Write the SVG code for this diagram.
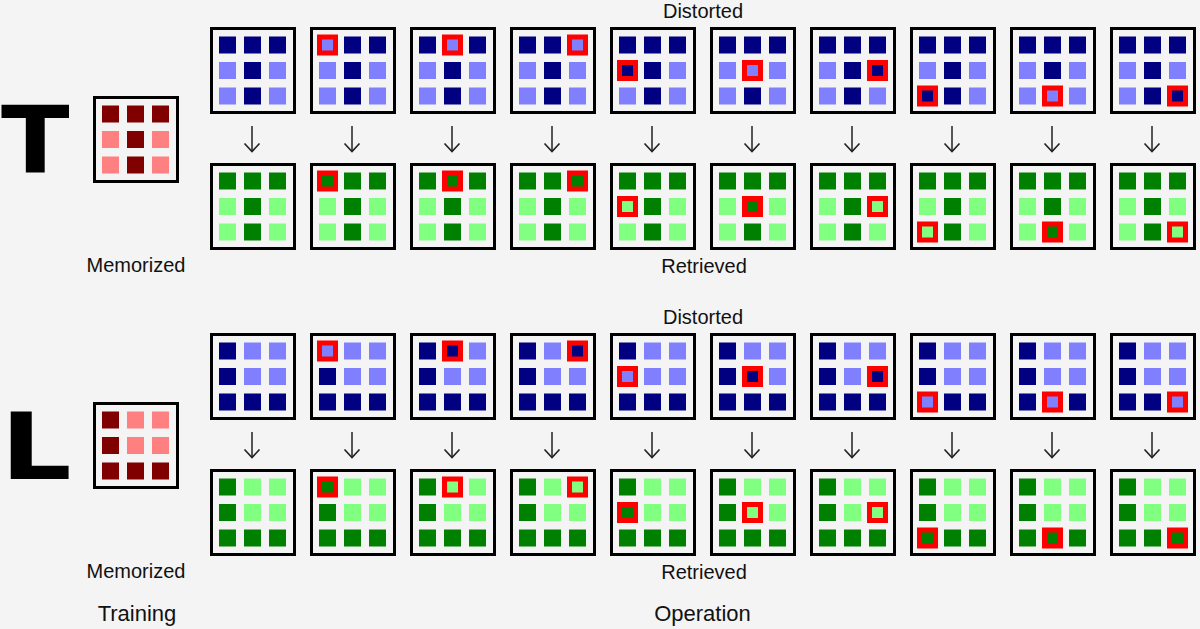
<svg xmlns="http://www.w3.org/2000/svg" xmlns:xlink="http://www.w3.org/1999/xlink" width="1200" height="629" viewBox="0 0 1200 629">
<style>
.bg{fill:#f4f4f4}
.frame{fill:#f4f4f4;stroke:#000;stroke-width:3}
.bd{fill:#000080}.bl{fill:#8080ff}
.gd{fill:#008000}.gl{fill:#80ff80}
.rd{fill:#800000}.rl{fill:#ff8080}
.hl{fill:none;stroke:#ff0000;stroke-width:5}
.lbl{font-family:"Liberation Sans",Arial,sans-serif;font-size:20px;fill:#111;text-anchor:middle}
.big{font-family:"Liberation Sans",Arial,sans-serif;font-size:22px;fill:#111;text-anchor:middle}
.sym{font-family:"DejaVu Sans",sans-serif;font-weight:bold;font-size:93px;fill:#000}
.arr{fill:none;stroke:#222;stroke-width:1.5}
</style>
<defs>
<marker id="head" markerUnits="userSpaceOnUse" viewBox="-1 -9 11 18" refX="8" refY="0" markerWidth="11" markerHeight="18" orient="auto">
<path d="M0,-7.5 L8,0 L0,7.5" fill="none" stroke="#222" stroke-width="1.6"/>
</marker>
<g id="tB"><rect class="frame" x="1.5" y="1.5" width="83" height="84"/>
<rect class="bd" x="9" y="9.5" width="17" height="17"/><rect class="bd" x="34" y="9.5" width="17" height="17"/><rect class="bd" x="59" y="9.5" width="17" height="17"/>
<rect class="bl" x="9" y="35" width="17" height="17"/><rect class="bd" x="34" y="35" width="17" height="17"/><rect class="bl" x="59" y="35" width="17" height="17"/>
<rect class="bl" x="9" y="60.5" width="17" height="17"/><rect class="bd" x="34" y="60.5" width="17" height="17"/><rect class="bl" x="59" y="60.5" width="17" height="17"/></g>
<g id="tG"><rect class="frame" x="1.5" y="1.5" width="83" height="84"/>
<rect class="gd" x="9" y="9.5" width="17" height="17"/><rect class="gd" x="34" y="9.5" width="17" height="17"/><rect class="gd" x="59" y="9.5" width="17" height="17"/>
<rect class="gl" x="9" y="35" width="17" height="17"/><rect class="gd" x="34" y="35" width="17" height="17"/><rect class="gl" x="59" y="35" width="17" height="17"/>
<rect class="gl" x="9" y="60.5" width="17" height="17"/><rect class="gd" x="34" y="60.5" width="17" height="17"/><rect class="gl" x="59" y="60.5" width="17" height="17"/></g>
<g id="tR"><rect class="frame" x="1.5" y="1.5" width="83" height="84"/>
<rect class="rd" x="9" y="9.5" width="17" height="17"/><rect class="rd" x="34" y="9.5" width="17" height="17"/><rect class="rd" x="59" y="9.5" width="17" height="17"/>
<rect class="rl" x="9" y="35" width="17" height="17"/><rect class="rd" x="34" y="35" width="17" height="17"/><rect class="rl" x="59" y="35" width="17" height="17"/>
<rect class="rl" x="9" y="60.5" width="17" height="17"/><rect class="rd" x="34" y="60.5" width="17" height="17"/><rect class="rl" x="59" y="60.5" width="17" height="17"/></g>
<g id="lB"><rect class="frame" x="1.5" y="1.5" width="83" height="84"/>
<rect class="bd" x="9" y="9.5" width="17" height="17"/><rect class="bl" x="34" y="9.5" width="17" height="17"/><rect class="bl" x="59" y="9.5" width="17" height="17"/>
<rect class="bd" x="9" y="35" width="17" height="17"/><rect class="bl" x="34" y="35" width="17" height="17"/><rect class="bl" x="59" y="35" width="17" height="17"/>
<rect class="bd" x="9" y="60.5" width="17" height="17"/><rect class="bd" x="34" y="60.5" width="17" height="17"/><rect class="bd" x="59" y="60.5" width="17" height="17"/></g>
<g id="lG"><rect class="frame" x="1.5" y="1.5" width="83" height="84"/>
<rect class="gd" x="9" y="9.5" width="17" height="17"/><rect class="gl" x="34" y="9.5" width="17" height="17"/><rect class="gl" x="59" y="9.5" width="17" height="17"/>
<rect class="gd" x="9" y="35" width="17" height="17"/><rect class="gl" x="34" y="35" width="17" height="17"/><rect class="gl" x="59" y="35" width="17" height="17"/>
<rect class="gd" x="9" y="60.5" width="17" height="17"/><rect class="gd" x="34" y="60.5" width="17" height="17"/><rect class="gd" x="59" y="60.5" width="17" height="17"/></g>
<g id="lR"><rect class="frame" x="1.5" y="1.5" width="83" height="84"/>
<rect class="rd" x="9" y="9.5" width="17" height="17"/><rect class="rl" x="34" y="9.5" width="17" height="17"/><rect class="rl" x="59" y="9.5" width="17" height="17"/>
<rect class="rd" x="9" y="35" width="17" height="17"/><rect class="rl" x="34" y="35" width="17" height="17"/><rect class="rl" x="59" y="35" width="17" height="17"/>
<rect class="rd" x="9" y="60.5" width="17" height="17"/><rect class="rd" x="34" y="60.5" width="17" height="17"/><rect class="rd" x="59" y="60.5" width="17" height="17"/></g>
</defs>
<rect class="bg" x="0" y="0" width="1200" height="629"/>

<!-- Section T -->
<g id="t-letter"><text class="sym" transform="translate(1,172.7) scale(1.08,1)" x="0" y="0">T</text></g>
<g id="t-memorized" transform="translate(93,96)"><use href="#tR"/></g>
<g id="t-distorted-1" transform="translate(210,27)"><use href="#tB"/></g>
<g id="t-distorted-2" transform="translate(310,27)"><use href="#tB"/><rect class="bl" x="9" y="9.5" width="17" height="17"/><rect class="hl" x="9.5" y="10" width="16" height="16"/></g>
<g id="t-distorted-3" transform="translate(410,27)"><use href="#tB"/><rect class="bl" x="34" y="9.5" width="17" height="17"/><rect class="hl" x="34.5" y="10" width="16" height="16"/></g>
<g id="t-distorted-4" transform="translate(510,27)"><use href="#tB"/><rect class="bl" x="59" y="9.5" width="17" height="17"/><rect class="hl" x="59.5" y="10" width="16" height="16"/></g>
<g id="t-distorted-5" transform="translate(610,27)"><use href="#tB"/><rect class="bd" x="9" y="35" width="17" height="17"/><rect class="hl" x="9.5" y="35.5" width="16" height="16"/></g>
<g id="t-distorted-6" transform="translate(710,27)"><use href="#tB"/><rect class="bl" x="34" y="35" width="17" height="17"/><rect class="hl" x="34.5" y="35.5" width="16" height="16"/></g>
<g id="t-distorted-7" transform="translate(810,27)"><use href="#tB"/><rect class="bd" x="59" y="35" width="17" height="17"/><rect class="hl" x="59.5" y="35.5" width="16" height="16"/></g>
<g id="t-distorted-8" transform="translate(910,27)"><use href="#tB"/><rect class="bd" x="9" y="60.5" width="17" height="17"/><rect class="hl" x="9.5" y="61" width="16" height="16"/></g>
<g id="t-distorted-9" transform="translate(1010,27)"><use href="#tB"/><rect class="bl" x="34" y="60.5" width="17" height="17"/><rect class="hl" x="34.5" y="61" width="16" height="16"/></g>
<g id="t-distorted-10" transform="translate(1110,27)"><use href="#tB"/><rect class="bd" x="59" y="60.5" width="17" height="17"/><rect class="hl" x="59.5" y="61" width="16" height="16"/></g>

<g id="t-retrieved-1" transform="translate(210,163)"><use href="#tG"/></g>
<g id="t-retrieved-2" transform="translate(310,163)"><use href="#tG"/><rect class="hl" x="9.5" y="10" width="16" height="16"/></g>
<g id="t-retrieved-3" transform="translate(410,163)"><use href="#tG"/><rect class="hl" x="34.5" y="10" width="16" height="16"/></g>
<g id="t-retrieved-4" transform="translate(510,163)"><use href="#tG"/><rect class="hl" x="59.5" y="10" width="16" height="16"/></g>
<g id="t-retrieved-5" transform="translate(610,163)"><use href="#tG"/><rect class="hl" x="9.5" y="35.5" width="16" height="16"/></g>
<g id="t-retrieved-6" transform="translate(710,163)"><use href="#tG"/><rect class="hl" x="34.5" y="35.5" width="16" height="16"/></g>
<g id="t-retrieved-7" transform="translate(810,163)"><use href="#tG"/><rect class="hl" x="59.5" y="35.5" width="16" height="16"/></g>
<g id="t-retrieved-8" transform="translate(910,163)"><use href="#tG"/><rect class="hl" x="9.5" y="61" width="16" height="16"/></g>
<g id="t-retrieved-9" transform="translate(1010,163)"><use href="#tG"/><rect class="hl" x="34.5" y="61" width="16" height="16"/></g>
<g id="t-retrieved-10" transform="translate(1110,163)"><use href="#tG"/><rect class="hl" x="59.5" y="61" width="16" height="16"/></g>

<!-- Section L -->
<g id="l-letter"><text class="sym" transform="translate(0.5,479) scale(1.2,1)" x="0" y="0">L</text></g>
<g id="l-memorized" transform="translate(93,402)"><use href="#lR"/></g>
<g id="l-distorted-1" transform="translate(210,333)"><use href="#lB"/></g>
<g id="l-distorted-2" transform="translate(310,333)"><use href="#lB"/><rect class="bl" x="9" y="9.5" width="17" height="17"/><rect class="hl" x="9.5" y="10" width="16" height="16"/></g>
<g id="l-distorted-3" transform="translate(410,333)"><use href="#lB"/><rect class="bd" x="34" y="9.5" width="17" height="17"/><rect class="hl" x="34.5" y="10" width="16" height="16"/></g>
<g id="l-distorted-4" transform="translate(510,333)"><use href="#lB"/><rect class="bd" x="59" y="9.5" width="17" height="17"/><rect class="hl" x="59.5" y="10" width="16" height="16"/></g>
<g id="l-distorted-5" transform="translate(610,333)"><use href="#lB"/><rect class="bl" x="9" y="35" width="17" height="17"/><rect class="hl" x="9.5" y="35.5" width="16" height="16"/></g>
<g id="l-distorted-6" transform="translate(710,333)"><use href="#lB"/><rect class="bd" x="34" y="35" width="17" height="17"/><rect class="hl" x="34.5" y="35.5" width="16" height="16"/></g>
<g id="l-distorted-7" transform="translate(810,333)"><use href="#lB"/><rect class="bd" x="59" y="35" width="17" height="17"/><rect class="hl" x="59.5" y="35.5" width="16" height="16"/></g>
<g id="l-distorted-8" transform="translate(910,333)"><use href="#lB"/><rect class="bl" x="9" y="60.5" width="17" height="17"/><rect class="hl" x="9.5" y="61" width="16" height="16"/></g>
<g id="l-distorted-9" transform="translate(1010,333)"><use href="#lB"/><rect class="bl" x="34" y="60.5" width="17" height="17"/><rect class="hl" x="34.5" y="61" width="16" height="16"/></g>
<g id="l-distorted-10" transform="translate(1110,333)"><use href="#lB"/><rect class="bl" x="59" y="60.5" width="17" height="17"/><rect class="hl" x="59.5" y="61" width="16" height="16"/></g>

<g id="l-retrieved-1" transform="translate(210,469)"><use href="#lG"/></g>
<g id="l-retrieved-2" transform="translate(310,469)"><use href="#lG"/><rect class="hl" x="9.5" y="10" width="16" height="16"/></g>
<g id="l-retrieved-3" transform="translate(410,469)"><use href="#lG"/><rect class="hl" x="34.5" y="10" width="16" height="16"/></g>
<g id="l-retrieved-4" transform="translate(510,469)"><use href="#lG"/><rect class="hl" x="59.5" y="10" width="16" height="16"/></g>
<g id="l-retrieved-5" transform="translate(610,469)"><use href="#lG"/><rect class="hl" x="9.5" y="35.5" width="16" height="16"/></g>
<g id="l-retrieved-6" transform="translate(710,469)"><use href="#lG"/><rect class="hl" x="34.5" y="35.5" width="16" height="16"/></g>
<g id="l-retrieved-7" transform="translate(810,469)"><use href="#lG"/><rect class="hl" x="59.5" y="35.5" width="16" height="16"/></g>
<g id="l-retrieved-8" transform="translate(910,469)"><use href="#lG"/><rect class="hl" x="9.5" y="61" width="16" height="16"/></g>
<g id="l-retrieved-9" transform="translate(1010,469)"><use href="#lG"/><rect class="hl" x="34.5" y="61" width="16" height="16"/></g>
<g id="l-retrieved-10" transform="translate(1110,469)"><use href="#lG"/><rect class="hl" x="59.5" y="61" width="16" height="16"/></g>

<g id="connectors" class="arr" marker-end="url(#head)">
<path d="M252,126V151.5"/><path d="M352,126V151.5"/><path d="M452,126V151.5"/><path d="M552,126V151.5"/><path d="M652,126V151.5"/>
<path d="M752,126V151.5"/><path d="M852,126V151.5"/><path d="M952,126V151.5"/><path d="M1052,126V151.5"/><path d="M1152,126V151.5"/>
<path d="M252,432V457.5"/><path d="M352,432V457.5"/><path d="M452,432V457.5"/><path d="M552,432V457.5"/><path d="M652,432V457.5"/>
<path d="M752,432V457.5"/><path d="M852,432V457.5"/><path d="M952,432V457.5"/><path d="M1052,432V457.5"/><path d="M1152,432V457.5"/>
</g>

<g id="labels">
<text class="lbl" x="703" y="17.5">Distorted</text>
<text class="lbl" x="704" y="273">Retrieved</text>
<text class="lbl" x="136" y="272.3">Memorized</text>
<text class="lbl" x="703" y="323.5">Distorted</text>
<text class="lbl" x="704" y="579">Retrieved</text>
<text class="lbl" x="136" y="578.3">Memorized</text>
<text class="big" x="137" y="620.7">Training</text>
<text class="big" x="702.5" y="620.7">Operation</text>
</g>
</svg>
